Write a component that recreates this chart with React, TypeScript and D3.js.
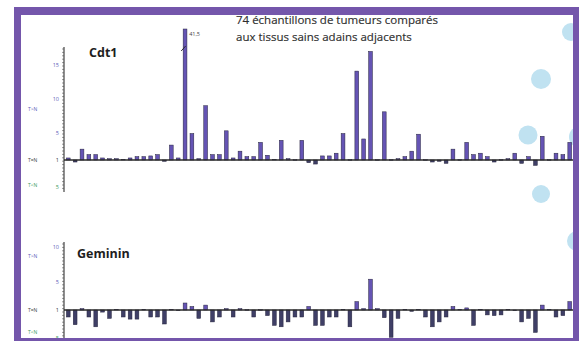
import React from 'react';
import * as d3 from 'd3';

// 74 tumour samples (T vs adjacent N)
const samples: string[] = Array.from({ length: 74 }, (_, i) => `S${i + 1}`);

// Fold change: positive = T>N fold, negative = T<N fold (magnitude)
const cdt1Values: number[] = [
  1.3, -1.3, 2.6, 1.8, 1.8, 1.3, 1.2, 1.2, 1.1, 1.3,
  1.5, 1.5, 1.6, 1.8, -1.2, 3.2, 1.3, 41.5, 4.9, 1.2,
  9.0, 1.8, 1.8, 5.3, 1.3, 2.3, 1.5, 1.5, 3.6, 1.7,
  1.1, 3.9, 1.2, 1.05, 3.9, -1.4, -1.6, 1.6, 1.6, 2.0,
  4.9, 1.05, 14.1, 4.1, 17.0, 1.05, 8.1, 1.05, 1.2, 1.5,
  2.3, 4.8, 1.05, -1.3, -1.2, -1.5, 2.6, 1.05, 3.6, 1.8,
  2.0, 1.5, -1.3, 1.05, 1.2, 2.0, -1.5, 1.5, -1.8, 4.5,
  1.05, 2.0, 1.8, 3.6,
];

const gemininValues: number[] = [
  -2.0, -3.1, 1.2, -2.0, -3.4, -1.3, -2.2, 1.1, -2.0, -2.3,
  -2.3, 1.1, -2.0, -2.0, -3.0, 1.1, -1.1, 2.0, 1.5, -2.2,
  1.7, -2.7, -2.0, 1.2, -2.0, 1.2, 1.05, -2.0, 1.05, -1.8,
  -3.2, -3.4, -2.7, -2.0, -2.0, 1.5, -3.2, -3.2, -2.0, -2.0,
  1.1, -3.4, 2.2, 1.2, 5.4, 1.2, -2.1, -4.9, -2.2, 1.1,
  -1.2, 1.1, -2.0, -3.4, -2.7, -2.0, 1.5, 1.1, 1.3, -3.2,
  1.1, -1.7, -1.8, -1.7, 1.1, -1.1, -2.7, -2.2, -4.2, 1.7,
  1.1, -2.0, -1.8, 2.2,
];

const cdt1UpTicks = [15, 10, 5];
const cdt1DownTicks = [5];
const gemininUpTicks = [10, 5];
const gemininDownTicks = [5];
const baseTick = 1;
const cdt1BreakValue = 41.5;
const cdt1BreakLabel = '41,5';

const titleLines = ['74 échantillons de tumeurs comparés', 'aux tissus sains adains adjacents'];
const panelNames = ['Cdt1', 'Geminin'];
const sideLabels = ['T>N', 'T=N', 'T<N'];

// decorative bubbles of the slide background
const bubbles = [
  { cx: 571, cy: 32, r: 9 },
  { cx: 541, cy: 79, r: 10 },
  { cx: 528, cy: 135, r: 9.5 },
  { cx: 580, cy: 137, r: 11 },
  { cx: 541, cy: 194, r: 9 },
  { cx: 577, cy: 241, r: 10 },
];

const W = 579;
const H = 341;
const FRAME = '#7456ab';
const UP = '#6554b4';
const DOWN = '#3f3f66';
const EDGE = '#26243d';
const BLUE_LBL = '#5d5db8';
const GREEN_LBL = '#3c9a5c';

export default function App() {
  const x = d3.scaleBand<string>().domain(samples).range([65, 573]).paddingInner(0.45).paddingOuter(0.2);

  const cUp = d3.scaleLinear().domain([1, 15]).range([160, 65]);
  const cDown = d3.scaleLinear().domain([1, 5]).range([160, 187]);
  const gUp = d3.scaleLinear().domain([1, 10]).range([310, 247]);
  const gDown = d3.scaleLinear().domain([1, 5]).range([310, 338]);
  const cTopY = 29;

  const bars = (values: number[], up: d3.ScaleLinear<number, number>, down: d3.ScaleLinear<number, number>, clipTop: number) =>
    values.map((v, i) => {
      const base = up(1);
      const xx = x(samples[i])!;
      let y: number, h: number, fill: string;
      if (v >= 1) {
        y = Math.max(up(v), clipTop);
        h = base - y;
        fill = UP;
      } else {
        y = base;
        h = down(-v) - base;
        fill = DOWN;
      }
      return (
        <rect key={i} x={xx} y={y} width={x.bandwidth()} height={Math.max(h, 0.6)} fill={fill} stroke={EDGE} strokeWidth={0.5} />
      );
    });

  const minorTicks = (y0: number, y1: number, step: number, axX: number, key: string) => {
    const out: JSX.Element[] = [];
    for (let y = y0, k = 0; y <= y1; y += step, k++) {
      out.push(<line key={key + k} x1={axX - 2} x2={axX} y1={y} y2={y} stroke="#555" strokeWidth={0.6} />);
    }
    return out;
  };

  const tallIdx = cdt1Values.indexOf(cdt1BreakValue);
  const tallX = x(samples[tallIdx])!;

  return (
    <svg width={W} height={H} style={{ position: 'absolute', left: 0, top: 0, background: '#fff' }} fontFamily="'Open Sans', sans-serif">
      <rect x={0} y={0} width={W} height={H} fill="#fff" />
      {bubbles.map((b, i) => (
        <circle key={i} cx={b.cx} cy={b.cy} r={b.r} fill="#c0e2f1" />
      ))}

      {/* title */}
      {titleLines.map((t, i) => (
        <text key={i} x={236} y={24 + i * 17} fontSize={11.5} fill="#2e2e2e" stroke="#2e2e2e" strokeWidth={0.15}>{t}</text>
      ))}

      {/* ===== Cdt1 panel ===== */}
      <text x={89} y={57} fontSize={12.5} fontWeight={700} fill="#1e1e1e">{panelNames[0]}</text>
      {minorTicks(49, 190, 3.4, 64, 'c')}
      <line x1={64} x2={64} y1={47} y2={192} stroke="#444" strokeWidth={1.2} />
      {cdt1UpTicks.map((t) => (
        <text key={t} x={59} y={cUp(t) + 2} fontSize={5.5} textAnchor="end" fill={BLUE_LBL}>{t}</text>
      ))}
      <text x={59} y={cUp(baseTick) + 2} fontSize={5.5} textAnchor="end" fill="#333">{baseTick}</text>
      {cdt1DownTicks.map((t) => (
        <text key={t} x={59} y={cDown(t) + 2} fontSize={5.5} textAnchor="end" fill={GREEN_LBL}>{t}</text>
      ))}
      <text x={28} y={111} fontSize={5} fill={BLUE_LBL}>{sideLabels[0]}</text>
      <text x={28} y={162} fontSize={5} fill="#444">{sideLabels[1]}</text>
      <text x={28} y={187} fontSize={5} fill={GREEN_LBL}>{sideLabels[2]}</text>
      {bars(cdt1Values, cUp, cDown, cTopY)}
      <line x1={64} x2={573} y1={cUp(1)} y2={cUp(1)} stroke="#2a2a2a" strokeWidth={1.6} />
      <line x1={tallX - 2} x2={tallX + 2.5} y1={51} y2={46} stroke="#222" strokeWidth={0.9} />
      <text x={tallX + 6} y={36} fontSize={5.5} fill="#444">{cdt1BreakLabel}</text>

      {/* ===== Geminin panel ===== */}
      <text x={77} y={258} fontSize={12.5} fontWeight={700} fill="#1e1e1e">{panelNames[1]}</text>
      {minorTicks(244, 338, 3.4, 64, 'g')}
      <line x1={64} x2={64} y1={242} y2={341} stroke="#444" strokeWidth={1.2} />
      {gemininUpTicks.map((t) => (
        <text key={t} x={59} y={gUp(t) + 2} fontSize={5.5} textAnchor="end" fill={BLUE_LBL}>{t}</text>
      ))}
      <text x={59} y={gUp(baseTick) + 2} fontSize={5.5} textAnchor="end" fill="#333">{baseTick}</text>
      {gemininDownTicks.map((t) => (
        <text key={t} x={59} y={gDown(t) + 2} fontSize={5.5} textAnchor="end" fill={GREEN_LBL}>{t}</text>
      ))}
      <text x={28} y={258} fontSize={5} fill={BLUE_LBL}>{sideLabels[0]}</text>
      <text x={28} y={312} fontSize={5} fill="#444">{sideLabels[1]}</text>
      <text x={28} y={334} fontSize={5} fill={GREEN_LBL}>{sideLabels[2]}</text>
      {bars(gemininValues, gUp, gDown, 0)}
      <line x1={64} x2={573} y1={gUp(1)} y2={gUp(1)} stroke="#2a2a2a" strokeWidth={1.4} />

      {/* frame */}
      <rect x={0} y={0} width={W} height={7} fill="#fff" />
      <rect x={0} y={0} width={14} height={H} fill="#fff" />
      <rect x={14} y={7} width={565} height={8} fill={FRAME} />
      <rect x={14} y={7} width={7} height={334} fill={FRAME} />
      <rect x={573} y={7} width={6} height={334} fill={FRAME} />
      <rect x={14} y={338} width={565} height={3} fill={FRAME} />
    </svg>
  );
}
